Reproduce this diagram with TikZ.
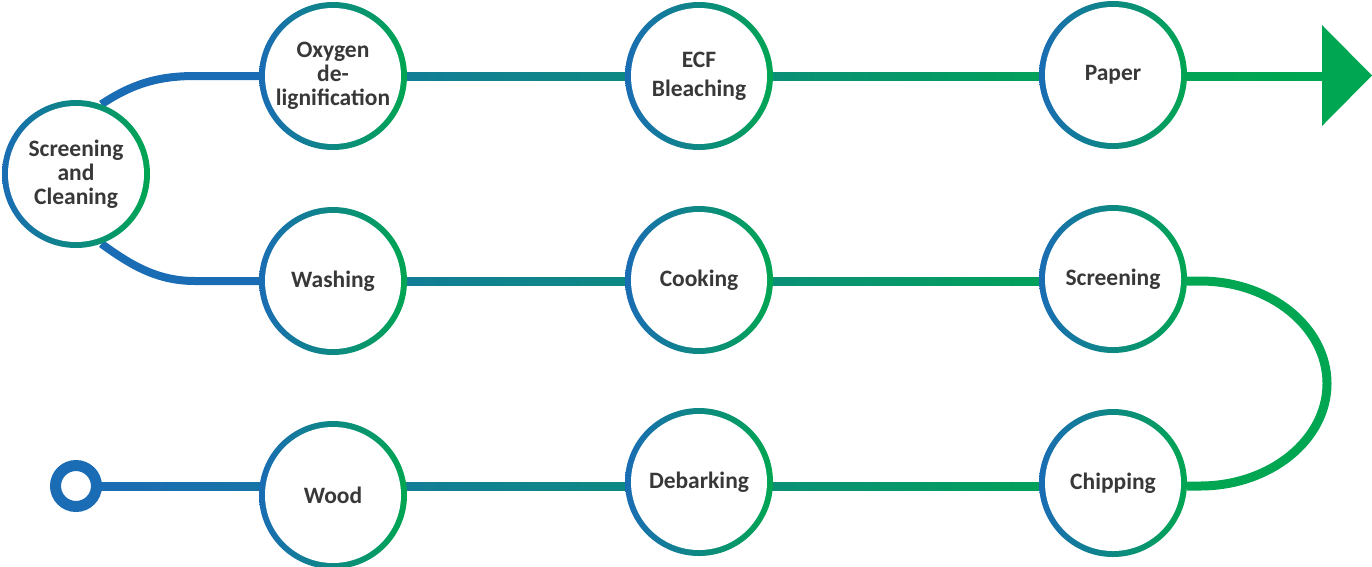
\documentclass[tikz,border=0pt]{standalone}
\usepackage{fontspec}
\setmainfont{Carlito}
\usetikzlibrary{calc}
\pgfdeclarelayer{background}
\pgfsetlayers{background,main}
\definecolor{cb}{RGB}{26,108,180}
\definecolor{cg}{RGB}{0,166,81}
\definecolor{txt}{RGB}{56,56,56}
\tikzset{
  stage/.style={circle, minimum size=148pt, inner sep=0pt,
    left color=cb, right color=cg,
    path picture={\fill[white] (path picture bounding box.center) circle[radius=68pt];},
    text=txt, font=\fontsize{23.5}{24}\selectfont\bfseries, align=center},
  link/.style={line width=8pt},
  startmark/.style={circle, draw=cb, line width=11pt, fill=white, minimum size=41pt, inner sep=0pt},
}
\begin{document}
\begin{tikzpicture}[x=1pt,y=-1pt]
\useasboundingbox (0,0) rectangle (1372,566);
\coordinate (r1) at (0,76);
\coordinate (r2) at (0,281);
\coordinate (r3) at (0,486);
% nodes
\node[stage] (sc) at (76,174) {Screening\\and\\Cleaning};
\node[stage] (ox) at (333,76) {Oxygen\\de-\\lignification};
\node[stage] (ecf) at (699,76) {ECF\\[5pt]Bleaching};
\node[stage] (paper) at (1113,75) {Paper};
\node[stage] (wash) at (333,281) {Washing};
\node[stage] (cook) at (699,280) {Cooking};
\node[stage] (scr) at (1113,279) {Screening};
\node[stage] (wood) at (333,495) {Wood};
\node[stage] (deb) at (699,482) {Debarking};
\node[stage] (chip) at (1113,483) {Chipping};
\node[startmark] (start) at (76,486) {};
\coordinate (tip) at (1323,76);
\begin{pgfonlayer}{background}
  % left loop
  \draw[link, cb] (sc.70) .. controls (132,84) and (158,76) .. (195,76) -- (ox.west |- r1);
  \draw[link, cb] (sc.-70) .. controls (132,266) and (158,281) .. (195,281) -- (wash.west |- r2);
  % row 1
  \shade[left color=cg!30!cb, right color=cg!50!cb] ($(ox.east |- r1)+(-3,-4)$) rectangle ($(ecf.west |- r1)+(3,4)$);
  \shade[left color=cg!62!cb, right color=cg!90!cb] ($(ecf.east |- r1)+(-3,-4)$) rectangle ($(paper.west |- r1)+(3,4)$);
  \shade[left color=cg!96!cb, right color=cg] ($(paper.east |- r1)+(-3,-4)$) rectangle ($(tip)+(2,4)$);
  % row 2
  \shade[left color=cg!30!cb, right color=cg!50!cb] ($(wash.east |- r2)+(-3,-4)$) rectangle ($(cook.west |- r2)+(3,4)$);
  \shade[left color=cg!62!cb, right color=cg!90!cb] ($(cook.east |- r2)+(-3,-4)$) rectangle ($(scr.west |- r2)+(3,4)$);
  % right loop
  \draw[cg, line width=9pt] (scr.east |- r2) -- (1200,281) .. controls (1270,281) and (1327,327) .. (1327,383.5) .. controls (1327,440) and (1270,486) .. (1200,486) -- (chip.east |- r3);
  % row 3
  \shade[left color=cb, right color=cg!14!cb] ($(start.east)+(-3,-4)$) rectangle ($(wood.west |- r3)+(3,4)$);
  \shade[left color=cg!30!cb, right color=cg!50!cb] ($(wood.east |- r3)+(-3,-4)$) rectangle ($(deb.west |- r3)+(3,4)$);
  \shade[left color=cg!62!cb, right color=cg!90!cb] ($(deb.east |- r3)+(-3,-4)$) rectangle ($(chip.west |- r3)+(3,4)$);
\end{pgfonlayer}
% arrow head
\fill[cg] (1322,25) -- (1372,75.5) -- (1322,126) -- cycle;
\end{tikzpicture}
\end{document}
